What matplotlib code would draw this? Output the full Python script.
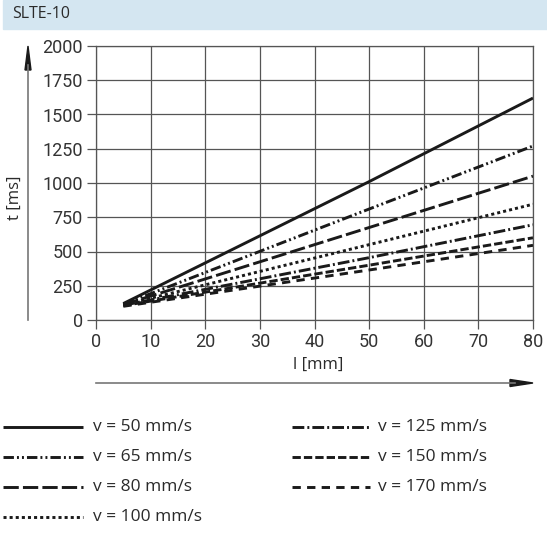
import matplotlib
matplotlib.use("Agg")
import matplotlib.pyplot as plt
from matplotlib.lines import Line2D
from matplotlib.patches import Rectangle

# data (stroke l in mm -> time t in ms)
stroke = [5, 50, 80]
t_50 = [120, 1010, 1620]
t_65 = [115, 810, 1270]
t_80 = [112, 675, 1050]
t_100 = [110, 550, 845]
t_125 = [108, 455, 695]
t_150 = [105, 400, 600]
t_170 = [100, 365, 545]
series = [t_50, t_65, t_80, t_100, t_125, t_150, t_170]
labels = ["v = 50 mm/s", "v = 65 mm/s", "v = 80 mm/s", "v = 100 mm/s",
          "v = 125 mm/s", "v = 150 mm/s", "v = 170 mm/s"]
xticks = [0, 10, 20, 30, 40, 50, 60, 70, 80]
yticks = [0, 250, 500, 750, 1000, 1250, 1500, 1750, 2000]

plt.rcParams['lines.scale_dashes'] = False

# dash patterns in points
styles = [
    '-',
    (0, (7.5, 2.2, 1.4, 2.2, 1.4, 2.2)),
    (0, (11, 3)),
    (0, (2.2, 2.2)),
    (0, (8.5, 2.2, 1.4, 2.2)),
    (0, (6, 2.2)),
    (0, (6, 4.5)),
]

W, H = 547, 533
fig = plt.figure(figsize=(W / 100, H / 100), dpi=100)


def fx(px):
    return px / W


def fy(py):
    return 1 - py / H


txt = '#2a2a2a'

# header band
fig.patches.append(Rectangle((fx(3), fy(29)), fx(544), 29 / H,
                             transform=fig.transFigure, color='#d4e6f1', zorder=0))
fig.text(fx(12), fy(14), "SLTE-10", fontsize=11.5, family="Open Sans",
         va='center', ha='left', color=txt)

ax = fig.add_axes([fx(96), fy(320), fx(533 - 96), (320 - 46) / H])
ink = '#1a1a1a'
for vals, ls in zip(series, styles):
    ax.plot(stroke, vals, color=ink, lw=2.1, linestyle=ls, solid_capstyle='butt',
            dash_capstyle='butt')

ax.set_xlim(0, 80)
ax.set_ylim(0, 2000)
ax.set_xticks(xticks)
ax.set_yticks(yticks)
ax.grid(True, color='#555555', lw=0.9)
for s in ax.spines.values():
    s.set_color('#555555')
    s.set_linewidth(0.9)
ax.tick_params(direction='out', length=6.5, width=0.9, color='#555555',
               labelsize=13, labelcolor='#333333', pad=3)
for lab in ax.get_xticklabels() + ax.get_yticklabels():
    lab.set_family("Roboto")

fig.text(fx(15), fy(198), "t [ms]", rotation=90, fontsize=12, family="Open Sans",
         ha='center', va='center', color=txt)
fig.text(fx(318), fy(365), "l [mm]", fontsize=12, family="Open Sans",
         ha='center', va='center', color=txt)

# axis arrows
fig.add_artist(Line2D([fx(28), fx(28)], [fy(320), fy(65)], color='#777777', lw=1.2))
fig.patches.append(plt.Polygon([[fx(28), fy(46)], [fx(25), fy(70)], [fx(31), fy(70)]],
                               closed=True, transform=fig.transFigure, color=ink))
fig.add_artist(Line2D([fx(96), fx(515)], [fy(383), fy(383)], color='#777777', lw=1.2))
fig.patches.append(plt.Polygon([[fx(533), fy(383)], [fx(510), fy(379.5)], [fx(510), fy(386.5)]],
                               closed=True, transform=fig.transFigure, color=ink))

# legend drawn by hand, two columns
rows = [427, 457, 487, 517]
cols = [(3, 83, 93), (292, 370, 378)]
for i, (lab, ls) in enumerate(zip(labels, styles)):
    c = cols[0] if i < 4 else cols[1]
    r = rows[i] if i < 4 else rows[i - 4]
    fig.add_artist(Line2D([fx(c[0]), fx(c[1])], [fy(r), fy(r)], color=ink, lw=2.1,
                          linestyle=ls, solid_capstyle='butt', dash_capstyle='butt'))
    fig.text(fx(c[2]), fy(r), lab, fontsize=12.5, family="Open Sans",
             ha='left', va='center', color=txt)

fig.savefig("out.png", dpi=100)
